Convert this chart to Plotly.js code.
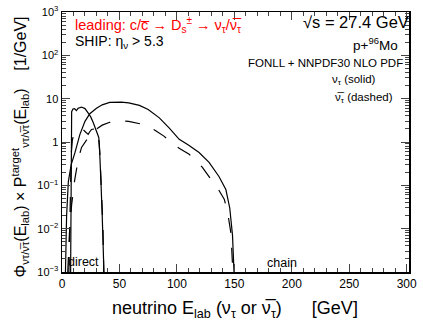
<!DOCTYPE html>
<html>
<head>
<meta charset="utf-8">
<script src="https://cdn.plot.ly/plotly-3.0.1.min.js"></script>
<style>html,body{margin:0;padding:0;background:#fff;}#chart{width:423px;height:324px;}</style>
</head>
<body>
<div id="chart"></div>
<script>
// direct component, nu_tau (solid)
const directSolidE = [7.5, 8, 8.4, 9.5, 11, 12.5, 14, 17, 20, 23, 25, 27, 29, 30, 32, 32.5, 33, 34, 35, 36, 36.5];
const directSolidV = [0.001, 0.5, 5.0, 5.8, 5.9, 5.3, 6.0, 6.4, 5.9, 4.6, 3.8, 2.9, 2.0, 1.7, 1.27, 0.9, 0.5, 0.1, 0.02, 0.003, 0.001];
// direct component, anti-nu_tau (dashed)
const directDashE = [6, 7, 8, 9, 10, 12, 14, 16, 18.4, 20.5, 22.8, 24, 25.7, 28, 30, 31.5, 32.9, 34, 35, 35.7, 36.3];
const directDashV = [0.001, 0.05, 0.5, 1.1, 1.4, 1.7, 1.95, 2.0, 1.95, 1.7, 1.5, 1.7, 1.95, 2.0, 2.1, 1.6, 0.57, 0.12, 0.03, 0.01, 0.001];
// chain component, nu_tau (solid)
const chainSolidE = [3, 4, 5.5, 8, 11.2, 15.6, 20, 24.2, 30, 35, 41.5, 47, 51.6, 58, 67.4, 75, 84.7, 93.4, 102, 110, 119.3, 128, 136.6, 142.6, 146, 148.4, 149.7];
const chainSolidV = [0.001, 0.02, 0.12, 0.3, 0.56, 1.5, 3.0, 4.5, 6.0, 7.2, 8.2, 8.4, 8.3, 8.0, 7.0, 5.6, 3.6, 2.1, 1.15, 0.85, 0.57, 0.34, 0.16, 0.08, 0.03, 0.007, 0.001];
// chain component, anti-nu_tau (dashed)
const chainDashE = [5, 6.5, 8.4, 11, 14.1, 17, 21.3, 25, 30, 35, 41.5, 51.6, 58, 64, 70.3, 76, 81.9, 89, 96.2, 103, 110.7, 116, 122.2, 129.4, 135, 141.2, 144, 147, 148, 148.7];
const chainDashV = [0.001, 0.008, 0.036, 0.13, 0.4, 0.75, 1.1, 1.5, 2.0, 2.45, 2.85, 3.05, 3.0, 2.8, 2.55, 2.2, 1.8, 1.35, 0.89, 0.69, 0.52, 0.38, 0.26, 0.14, 0.09, 0.048, 0.025, 0.008, 0.003, 0.001];

const yTickVals = [0.001, 0.01, 0.1, 1, 10, 100, 1000];
const yTickText = ['10<sup>\u22123</sup>', '10<sup>\u22122</sup>', '10<sup>\u22121</sup>', '1', '10', '10<sup>2</sup>', '10<sup>3</sup>'];
const xTickVals = [0, 50, 100, 150, 200, 250, 300];

const FONT = 'Liberation Sans, Arial, Helvetica, sans-serif';
const lineStyle = (dash) => ({color: '#000', width: 1.2, dash: dash});

const traces = [
  {x: chainSolidE, y: chainSolidV, mode: 'lines', line: lineStyle('solid'), name: 'chain nu'},
  {x: chainDashE, y: chainDashV, mode: 'lines', line: lineStyle('longdash'), name: 'chain nubar'},
  {x: directSolidE, y: directSolidV, mode: 'lines', line: lineStyle('solid'), name: 'direct nu'},
  {x: directDashE, y: directDashV, mode: 'lines', line: lineStyle('longdash'), name: 'direct nubar'}
];

const nub = '\u03BD\u0305';
const layout = {
  width: 423, height: 324,
  margin: {l: 62, r: 14, t: 12, b: 52},
  paper_bgcolor: '#fff', plot_bgcolor: '#fff',
  showlegend: false,
  font: {family: FONT, color: '#000', size: 11},
  xaxis: {
    range: [0, 302], tickvals: xTickVals, ticks: 'inside', ticklen: 8, tickwidth: 1,
    showline: true, linewidth: 1.5, linecolor: '#000', mirror: 'ticks', showgrid: false, zeroline: false,
    tickfont: {size: 12, family: FONT},
    minor: {dtick: 10, ticks: 'inside', ticklen: 4, tickwidth: 1, showgrid: false}
  },
  yaxis: {
    type: 'log', range: [-3, 3], tickvals: yTickVals, ticktext: yTickText, ticks: 'inside', ticklen: 8, tickwidth: 1,
    showline: true, linewidth: 1.5, linecolor: '#000', mirror: 'ticks', showgrid: false, zeroline: false,
    tickfont: {size: 11, family: FONT},
    minor: {dtick: 'D1', ticks: 'inside', ticklen: 4, tickwidth: 1, showgrid: false}
  },
  annotations: [
    {xref: 'paper', yref: 'paper', x: 0.0317, y: 0.95, xanchor: 'left', yanchor: 'middle', showarrow: false,
     text: 'leading: c/c\u0305 \u2192 D<sub>s</sub><sup>\u00B1</sup> \u2192 \u03BD<sub>\u03C4</sub>/' + nub + '<sub>\u03C4</sub>', font: {size: 14.5, color: '#ff0000'}},
    {xref: 'paper', yref: 'paper', x: 0.0317, y: 0.885, xanchor: 'left', yanchor: 'middle', showarrow: false,
     text: 'SHIP: \u03B7<sub>\u03BD</sub> > 5.3', font: {size: 14}},
    {xref: 'paper', yref: 'paper', x: 1.006, y: 0.962, xanchor: 'right', yanchor: 'middle', showarrow: false,
     text: '\u221As = 27.4 GeV', font: {size: 16.5}},
    {xref: 'paper', yref: 'paper', x: 0.974, y: 0.877, xanchor: 'right', yanchor: 'middle', showarrow: false,
     text: 'p+<sup>96</sup>Mo', font: {size: 13.5}},
    {xref: 'paper', yref: 'paper', x: 0.988, y: 0.804, xanchor: 'right', yanchor: 'middle', showarrow: false,
     text: 'FONLL + NNPDF30 NLO PDF', font: {size: 11.5}},
    {xref: 'paper', yref: 'paper', x: 0.911, y: 0.738, xanchor: 'right', yanchor: 'middle', showarrow: false,
     text: '\u03BD<sub>\u03C4</sub> (solid)', font: {size: 11.5}},
    {xref: 'paper', yref: 'paper', x: 0.96, y: 0.669, xanchor: 'right', yanchor: 'middle', showarrow: false,
     text: nub + '<sub>\u03C4</sub> (dashed)', font: {size: 11.5}},
    {xref: 'paper', yref: 'paper', x: 0.0115, y: 0.038, xanchor: 'left', yanchor: 'middle', showarrow: false,
     text: 'direct', font: {size: 12.5}},
    {xref: 'paper', yref: 'paper', x: 0.585, y: 0.036, xanchor: 'left', yanchor: 'middle', showarrow: false,
     text: 'chain', font: {size: 12.5}},
    {xref: 'paper', yref: 'paper', x: 0.138, y: -0.145, xanchor: 'left', yanchor: 'middle', showarrow: false,
     text: 'neutrino E<sub>lab</sub> (\u03BD<sub>\u03C4</sub> or ' + nub + '<sub>\u03C4</sub>)      [GeV]', font: {size: 18}},
    {xref: 'paper', yref: 'paper', x: -0.12, y: 0.48, xanchor: 'center', yanchor: 'middle', showarrow: false, textangle: -90,
     text: '\u03A6<sub>\u03BD\u03C4/' + nub + '\u03C4</sub>(E<sub>lab</sub>) \u00D7 P<sup>target</sup><sub>\u03BD\u03C4/' + nub + '\u03C4</sub>(E<sub>lab</sub>)    [1/GeV]', font: {size: 16}}
  ]
};

Plotly.newPlot('chart', traces, layout, {staticPlot: true, displayModeBar: false});
</script>
</body>
</html>
